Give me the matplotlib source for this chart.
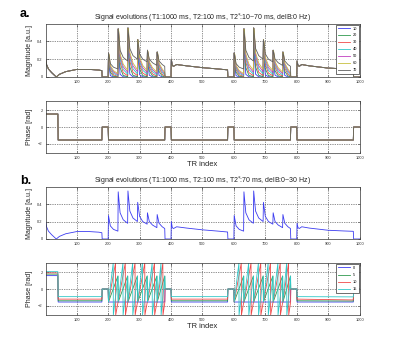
import numpy as np
import matplotlib
matplotlib.use('Agg')
import matplotlib.pyplot as plt

plt.rcParams['font.family'] = ['Liberation Sans', 'DejaVu Sans']
PI = np.pi

# ---------------- data ----------------
t2s_labels = ['10', '20', '30', '40', '50', '60', '70']       # T2* [ms]
dB_labels = ['0', '5', '10', '15']                             # delB [Hz]
x_ticks = [100, 200, 300, 400, 500, 600, 700, 800, 900, 1000]

# signal-off intervals (TR index)
gap_start = [181, 381, 581, 781, 981]
gap_end = [200, 400, 600, 800, 1000]

# slow segments, magnitude key points (T2* = 70 ms, delB = 0)
seg1_x = [1, 4, 10, 20, 35, 45, 65, 100, 140, 170, 180]
seg1_y = [0.20, 0.14, 0.09, 0.05, 0.0, 0.03, 0.06, 0.085, 0.085, 0.078, 0.072]
seg3_x = [401, 404, 408, 418, 450, 500, 550, 580]
seg3_y = [0.20, 0.13, 0.12, 0.14, 0.125, 0.105, 0.09, 0.08]
seg5_x = [801, 804, 808, 816, 840, 900, 950, 980]
seg5_y = [0.18, 0.13, 0.12, 0.14, 0.125, 0.10, 0.092, 0.088]

# pulse-train blocks
train_start = [201, 601]
train_len = 180
peak_off = [0, 31, 62, 93, 124, 155]
peak_h = [0.27, 0.54, 0.55, 0.42, 0.30, 0.28]
mid_h = [0.15, 0.30, 0.32, 0.26, 0.20, 0.18]      # ~6 TR after peak
late_h = [0.11, 0.22, 0.24, 0.20, 0.16, 0.14]     # ~16 TR after peak
trough_h = [0.09, 0.18, 0.20, 0.17, 0.13, 0.12]   # just before next peak
# fraction of the T2*=70 curve reached by the T2* = 10..60 curves
fan_early = [0.45, 0.70, 0.80, 0.86, 0.90, 0.94]
fan_mid = [0.10, 0.35, 0.55, 0.68, 0.78, 0.86]
fan_late = [0.01, 0.08, 0.22, 0.38, 0.52, 0.65]
fan_end = [0.00, 0.02, 0.08, 0.18, 0.30, 0.42]

# phase
phase_early_end = 40
phase_a_early = 1.57
phase_a_slow = -1.57
dB_early = [1.62, 1.80, 1.95, 2.10]
dB_slow = [-1.57, -1.42, -1.22, -0.92]
dB_seg5_end = [-1.57, -1.45, -1.32, -0.95]
train_gain = [0.0, PI, 2 * PI, 3 * PI]   # phase advance per sub-block

colors_a = ['#3c3cf0', '#2f9a4f', '#f04a4a', '#30c8c8', '#c040c0', '#c8c040', '#606060']
colors_b = ['#3c3cf0', '#2f9a4f', '#f04a4a', '#30c8c8']


# ---------------- build polylines from the key points ----------------
def sub_bounds(s):
    out = []
    for i, off in enumerate(peak_off):
        p = s + off
        nxt = s + (peak_off[i + 1] if i + 1 < len(peak_off) else train_len) - 1
        out.append((i, p, nxt))
    return out


def mag_curve(k):
    xs, ys = [], []

    def gap(i):
        xs.extend([gap_start[i], gap_end[i]])
        ys.extend([0.0, 0.0])

    def train(s):
        for i, p, nxt in sub_bounds(s):
            if k == 6:
                xs.extend([p, p + 6, p + 16, nxt])
                ys.extend([peak_h[i], mid_h[i], late_h[i], trough_h[i]])
            else:
                xs.extend([p, p + 2, p + 6, p + 16, nxt])
                ys.extend([peak_h[i], peak_h[i] * fan_early[k],
                           mid_h[i] * fan_mid[k], late_h[i] * fan_late[k],
                           trough_h[i] * fan_end[k]])

    xs.extend(seg1_x); ys.extend(seg1_y); gap(0)
    train(train_start[0]); gap(1)
    xs.extend(seg3_x); ys.extend(seg3_y); gap(2)
    train(train_start[1]); gap(3)
    xs.extend(seg5_x); ys.extend(seg5_y); gap(4)
    return xs, ys


def phase_curve(early, slow, slow5_end, gain):
    xs, ys = [], []

    def gap(i):
        xs.extend([gap_start[i], gap_end[i]])
        ys.extend([0.0, 0.0])

    def train(s):
        for i, p, nxt in sub_bounds(s):
            phi0 = -PI / 2
            L = nxt - p
            xs.append(p); ys.append(phi0)
            if gain > 0:
                phi = phi0
                t = p
                rem = gain
                while rem > 1e-9:
                    step = min(PI - phi, rem)
                    t = t + step / gain * L
                    phi = phi + step
                    rem -= step
                    xs.append(t); ys.append(phi)
                    if rem > 1e-9 and abs(phi - PI) < 1e-9:
                        xs.append(t + 0.5); ys.append(-PI)
                        t = t + 0.5
                        phi = -PI
            else:
                xs.append(nxt); ys.append(phi0)

    xs.extend([1, phase_early_end, phase_early_end + 1, 180])
    ys.extend([early, early, slow, slow]); gap(0)
    train(train_start[0]); gap(1)
    xs.extend([401, 580]); ys.extend([slow, slow]); gap(2)
    train(train_start[1]); gap(3)
    xs.extend([801, 980]); ys.extend([slow, slow5_end]); gap(4)
    return xs, ys


# ---------------- figure ----------------
fig = plt.figure(figsize=(4.0, 3.38), dpi=100)
L0, W0 = 0.114, 0.785
ax_am = fig.add_axes([L0, 0.7722, W0, 0.1568])
ax_ap = fig.add_axes([L0, 0.5473, W0, 0.1538])
ax_bm = fig.add_axes([L0, 0.2929, W0, 0.1538])
ax_bp = fig.add_axes([L0, 0.0680, W0, 0.1538])

lw = 0.6
for k in range(7):
    x, y = mag_curve(k)
    ax_am.plot(x, y, color=colors_a[k], lw=lw, label=t2s_labels[k])
    xp, yp = phase_curve(phase_a_early, phase_a_slow, phase_a_slow, 0.0)
    ax_ap.plot(xp, yp, color=colors_a[k], lw=lw)

xb, yb = mag_curve(6)
ax_bm.plot(xb, yb, color=colors_b[0], lw=lw)
for j in range(4):
    xp, yp = phase_curve(dB_early[j], dB_slow[j], dB_seg5_end[j], train_gain[j])
    ax_bp.plot(xp, yp, color=colors_b[j], lw=lw, label=dB_labels[j])

for ax in (ax_am, ax_ap, ax_bm, ax_bp):
    ax.set_xlim(1, 1000)
    ax.set_xticks(x_ticks)
    ax.grid(True, color='#222222', linestyle=(0, (1.2, 1.6)), lw=0.45)
    ax.tick_params(direction='in', length=1.8, width=0.4, labelsize=2.9,
                   top=True, right=True, pad=2.0, colors='#333333')
    for sp in ax.spines.values():
        sp.set_linewidth(0.5)
        sp.set_color('#333333')
for ax in (ax_am, ax_bm):
    ax.set_ylim(0, 0.595)
    ax.set_yticks([0, 0.2, 0.4])
    ax.set_yticklabels(['0', '0.2', '0.4'])
    ax.set_ylabel('Magnitude [a.u.]', fontsize=5, color='#222222')
    ax.yaxis.set_label_coords(-0.040, 0.5)
for ax in (ax_ap, ax_bp):
    ax.set_ylim(-PI, PI)
    ax.set_yticks([-2, 0, 2])
    ax.set_ylabel('Phase [rad]', fontsize=5, color='#222222')
    ax.yaxis.set_label_coords(-0.040, 0.5)
    ax.set_xlabel('TR index', fontsize=5.4, va='top', color='#222222')
    ax.xaxis.set_label_coords(0.5, -0.15)

ax_am.set_title('Signal evolutions (T1:1000 ms, T2:100 ms, T2$^{*}$:10~70 ms, delB:0 Hz)',
                fontsize=5.0, pad=2.5, color='#222222')
ax_bm.set_title('Signal evolutions (T1:1000 ms, T2:100 ms, T2$^{*}$:70 ms, delB:0~30 Hz)',
                fontsize=5.0, pad=2.5, color='#222222')

leg_kw = dict(loc='upper right', fontsize=2.8, frameon=True, fancybox=False,
              edgecolor='#333333', framealpha=1, borderaxespad=0.15, handlelength=3.0,
              handletextpad=0.8, borderpad=0.5)
la = ax_am.legend(labelspacing=0.75, **leg_kw)
lb = ax_bp.legend(labelspacing=0.85, **leg_kw)
for lg in (la, lb):
    lg.get_frame().set_linewidth(0.5)

fig.text(0.05, 0.951, 'a.', fontsize=9, fontweight='bold', va='baseline')
fig.text(0.05, 0.457, 'b.', fontsize=9, fontweight='bold', va='baseline')

fig.savefig('out.png', dpi=100, facecolor='white')
